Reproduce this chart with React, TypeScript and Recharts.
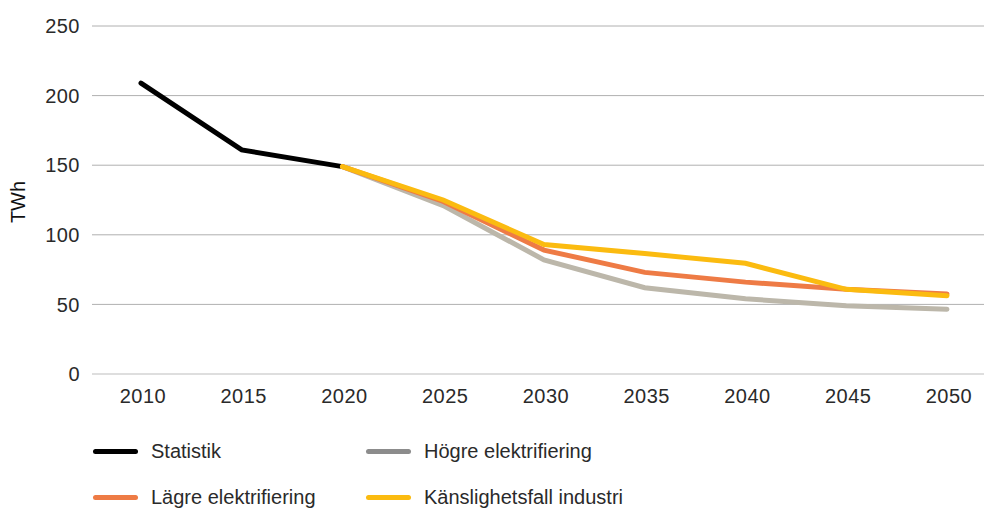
import { LineChart, Line, XAxis, YAxis, CartesianGrid, ReferenceLine } from "recharts";

const years = ["2010", "2015", "2020", "2025", "2030", "2035", "2040", "2045", "2050"];
const statistik = [209, 161, 149, null, null, null, null, null, null];
const hogre = [null, null, 149, 121, 82, 62, 54, 49, 46.5];
const lagre = [null, null, 149, 124, 89, 73, 66, 60.8, 57.5];
const kanslighet = [null, null, 149, 125, 93, 86.5, 79.5, 60.8, 56.3];
const yTicks = [0, 50, 100, 150, 200, 250];

const data = years.map((y, i) => ({
  year: y,
  statistik: statistik[i],
  hogre: hogre[i],
  lagre: lagre[i],
  kanslighet: kanslighet[i],
}));

const FONT = "'Liberation Sans', Arial, sans-serif";
const tickStyle = { fontSize: 20, fill: "#2a2a2a", fontFamily: FONT, letterSpacing: 0.5 };

const legendItems = [
  { label: "Statistik", color: "#000000", x: 93, y: 451 },
  { label: "Högre elektrifiering", color: "#8c8c8c", x: 366, y: 451 },
  { label: "Lägre elektrifiering", color: "#ee7b45", x: 93, y: 497 },
  { label: "Känslighetsfall industri", color: "#fbbb10", x: 366, y: 497 },
];

export default function App() {
  return (
    <div
      style={{
        position: "absolute",
        left: 0,
        top: 0,
        width: 984,
        height: 508,
        overflow: "hidden",
        background: "#fff",
        fontFamily: FONT,
      }}
    >
      <LineChart
        width={1000}
        height={508}
        data={data}
        margin={{ top: 26, right: 3, bottom: 94, left: 0 }}
      >
        <CartesianGrid vertical={false} stroke="#b0b0b0" strokeWidth={1} />
        <XAxis
          dataKey="year"
          axisLine={false}
          tickLine={false}
          tickSize={0}
          tickMargin={15}
          height={40}
          padding={{ left: 49, right: 50 }}
          dx={2}
          tick={tickStyle}
          interval={0}
        />
        <YAxis
          domain={[0, 250]}
          ticks={yTicks}
          axisLine={false}
          tickLine={false}
          tickSize={0}
          tickMargin={12}
          width={92}
          tick={tickStyle}
        />
        <ReferenceLine y={0} stroke="#dedede" strokeWidth={2} />
        <Line dataKey="statistik" stroke="#000000" strokeWidth={5} dot={false} strokeLinecap="round" isAnimationActive={false} />
        <Line dataKey="hogre" stroke="#bcb7aa" strokeWidth={5} dot={false} strokeLinecap="round" isAnimationActive={false} />
        <Line dataKey="lagre" stroke="#ee7b45" strokeWidth={5} dot={false} strokeLinecap="round" isAnimationActive={false} />
        <Line dataKey="kanslighet" stroke="#fbbb10" strokeWidth={5} dot={false} strokeLinecap="round" isAnimationActive={false} />
      </LineChart>

      <div
        style={{
          position: "absolute",
          left: 18,
          top: 202,
          transform: "translate(-50%, -50%) rotate(-90deg)",
          fontSize: 20,
          color: "#111",
          whiteSpace: "nowrap",
        }}
      >
        TWh
      </div>

      {legendItems.map((it) => (
        <div
          key={it.label}
          style={{
            position: "absolute",
            left: it.x,
            top: it.y - 12,
            height: 24,
            display: "flex",
            alignItems: "center",
            whiteSpace: "nowrap",
          }}
        >
          <span
            style={{
              display: "inline-block",
              width: 45,
              height: 5,
              borderRadius: 3,
              background: it.color,
              marginRight: 13,
            }}
          />
          <span style={{ fontSize: 20, color: "#2a2a2a" }}>{it.label}</span>
        </div>
      ))}
    </div>
  );
}
